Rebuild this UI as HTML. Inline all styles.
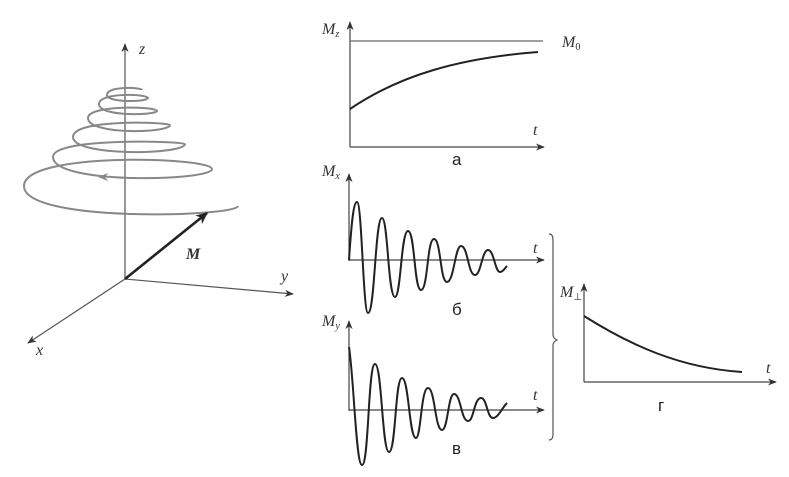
<!DOCTYPE html>
<html><head><meta charset="utf-8"><style>
html,body{margin:0;padding:0;background:#fff;}
svg{display:block;}
.lab{font-family:"Liberation Serif",serif;font-style:italic;font-size:16px;fill:#333;}
.cy{font-family:"Liberation Sans","DejaVu Sans",sans-serif;font-size:17px;fill:#222;font-weight:500;}
</style></head><body>
<svg width="789" height="477" viewBox="0 0 789 477" xmlns="http://www.w3.org/2000/svg">
<defs>
<marker id="ar" viewBox="0 0 10 10" refX="9" refY="5" markerWidth="9" markerHeight="9" markerUnits="userSpaceOnUse" orient="auto"><path d="M0,1 L10,5 L0,9 L3,5 z" fill="#333"/></marker>
<marker id="ar2" viewBox="0 0 10 10" refX="9" refY="5" markerWidth="12" markerHeight="12" markerUnits="userSpaceOnUse" orient="auto"><path d="M0,0.5 L10,5 L0,9.5 L3,5 z" fill="#222"/></marker>
</defs>
<g stroke="#555" stroke-width="1.2" fill="none">
<line x1="125" y1="279" x2="125" y2="44" marker-end="url(#ar)"/>
<line x1="125" y1="279" x2="293" y2="294" marker-end="url(#ar)"/>
<line x1="125" y1="279" x2="28" y2="343" marker-end="url(#ar)"/>
</g>
<path d="M238,206 C238,216.7 24,223.3 24,186 C24,151.3 212,157 212,169 C212,181 53,185 53,157 C53,137 185,141.3 185,144 C185,154.7 73,157 73,137 C73,118.3 170,122.3 170,125 C170,133 88,135.3 88,118 C88,104.7 157,106.3 157,111 C157,115 99,117.3 99,104 C99,92 148,94 148,98 C148,102 107,103 107,95 C107,85.7 142,87.3 142,90" stroke="#888" stroke-width="2" fill="none"/>
<path d="M98,177 L108,173 L105,177 L108,181 z" fill="#888"/>
<line x1="125" y1="279" x2="207" y2="213" stroke="#222" stroke-width="2.6" marker-end="url(#ar2)"/>
<text class="lab" x="139" y="54">z</text>
<text class="lab" x="281" y="281">y</text>
<text class="lab" x="36" y="355">x</text>
<text class="lab" x="186" y="259" style="font-weight:bold;font-size:16px">M</text>
<g stroke="#444" stroke-width="1.2" fill="none">
<line x1="350" y1="147" x2="350" y2="22" marker-end="url(#ar)"/>
<line x1="350" y1="147" x2="544" y2="147" marker-end="url(#ar)"/>
<line x1="350" y1="41" x2="543" y2="41" stroke="#666"/>
</g>
<path d="M350,109 C400,75 460,58 538,52" stroke="#222" stroke-width="2" fill="none"/>
<text class="lab" x="322" y="34">M<tspan font-size="10" dy="3">z</tspan></text>
<text class="lab" x="562" y="47">M<tspan font-size="10" dy="3" font-style="normal">0</tspan></text>
<text class="lab" x="533" y="135">t</text>
<text class="cy" x="452" y="165">а</text>
<g stroke="#444" stroke-width="1.2" fill="none">
<line x1="349" y1="261" x2="349" y2="174" marker-end="url(#ar)"/>
<line x1="349" y1="260" x2="544" y2="260" marker-end="url(#ar)"/>
</g>
<path d="M349,260 C351,230 353,202 357,202 C362,202 363,313 368,313 C375,313 375,218 382,218 C388,218 388,297 395,297 C401,297 401,231 408,231 C415,231 414,290 421,290 C428,290 427,239 434,239 C441,239 440,282 447,282 C454,282 455,246 461,246 C468,246 468,275 475,275 C481,275 482,250 488,250 C494,250 495,272 500,272 C503,272 505,268 507,266" stroke="#222" stroke-width="2" fill="none"/>
<text class="lab" x="322" y="176">M<tspan font-size="10" dy="3">x</tspan></text>
<text class="lab" x="533" y="253">t</text>
<text class="cy" x="452" y="315">б</text>
<g stroke="#444" stroke-width="1.2" fill="none">
<line x1="349" y1="411" x2="349" y2="321" marker-end="url(#ar)"/>
<line x1="349" y1="410" x2="544" y2="410" marker-end="url(#ar)"/>
</g>
<path d="M349,347 C354,380 356,465 362,465 C369,465 368,364 375,364 C382,364 382,452 389,452 C396,452 395,378 402,378 C409,378 409,438 416,438 C421,438 421,388 428,388 C435,388 435,430 442,430 C448,430 448,394 454,394 C461,394 461,421 468,421 C474,421 474,398 481,398 C487,398 487,418 493,418 C498,418 502,408 507,403" stroke="#222" stroke-width="2" fill="none"/>
<text class="lab" x="322" y="326">M<tspan font-size="10" dy="3">y</tspan></text>
<text class="lab" x="533" y="400">t</text>
<text class="cy" x="452" y="454">в</text>
<path d="M549,234 C553,234 553,238 553,242 L553,334 C553,338 555,339 557,340 C555,341 553,342 553,346 L553,434 C553,438 552,440 549,440" stroke="#555" stroke-width="1.2" fill="none"/>
<g stroke="#444" stroke-width="1.2" fill="none">
<line x1="584" y1="382" x2="584" y2="284" marker-end="url(#ar)"/>
<line x1="584" y1="382" x2="776" y2="382" marker-end="url(#ar)"/>
</g>
<path d="M584,316 C630,345 680,368 742,372" stroke="#222" stroke-width="2" fill="none"/>
<text class="lab" x="560" y="297">M<tspan font-size="10" dy="3" font-style="normal">⊥</tspan></text>
<text class="lab" x="766" y="373">t</text>
<text class="cy" x="658" y="411">г</text>
</svg>
</body></html>
